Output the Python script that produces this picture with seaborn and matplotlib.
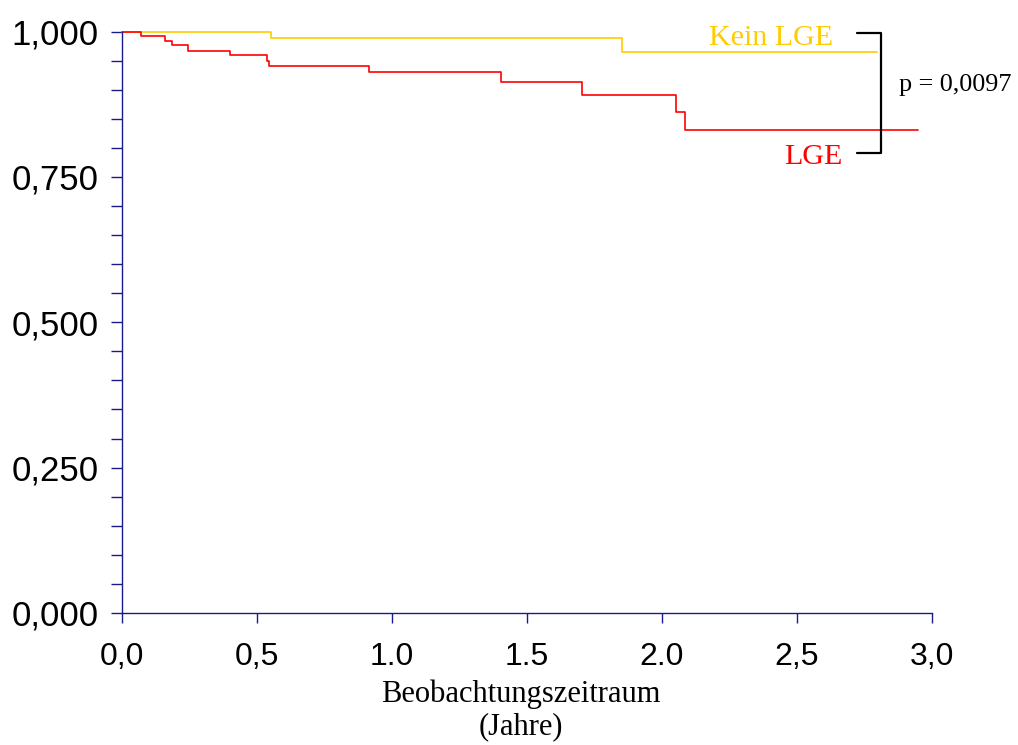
import numpy as np
import pandas as pd
import seaborn as sns
import matplotlib.pyplot as plt
from matplotlib.ticker import MultipleLocator

# Kaplan-Meier steps
kein_t = [0.0, 0.552, 1.851, 2.795]
kein_s = [1.000, 0.989, 0.964, 0.964]
lge_t = [0.0, 0.069, 0.160, 0.186, 0.243, 0.400, 0.537, 0.543, 0.916, 1.403, 1.704, 2.052, 2.085, 2.947]
lge_s = [1.000, 0.992, 0.984, 0.976, 0.967, 0.959, 0.950, 0.941, 0.930, 0.914, 0.891, 0.861, 0.831, 0.831]

groups = ["Kein LGE", "LGE"]
colors = {"Kein LGE": "#FFCC00", "LGE": "#FF0000"}
x_ticks = [0.0, 0.5, 1.0, 1.5, 2.0, 2.5, 3.0]
x_labels = ["0,0", "0,5", "1.0", "1.5", "2.0", "2,5", "3,0"]
y_ticks = [0.0, 0.25, 0.5, 0.75, 1.0]
y_labels = ["0,000", "0,250", "0,500", "0,750", "1,000"]
p_text = "p = 0,0097"

df = pd.concat([
    pd.DataFrame({"t": kein_t, "s": kein_s, "gruppe": "Kein LGE"}),
    pd.DataFrame({"t": lge_t, "s": lge_s, "gruppe": "LGE"}),
])

sns.set_style("white")
plt.rcParams['font.family'] = ['Liberation Sans', 'DejaVu Sans']
plt.rcParams['text.color'] = 'black'
plt.rcParams['xtick.color'] = 'black'
plt.rcParams['ytick.color'] = 'black'

fig = plt.figure(figsize=(10.18, 7.45), dpi=100)
ax = fig.add_axes([0.1198, 0.1772, 0.7957, 0.7805])

sns.lineplot(data=df, x="t", y="s", hue="gruppe", palette=colors, hue_order=groups,
             drawstyle="steps-post", sort=False, lw=1.2, legend=False, ax=ax,
             clip_on=False)

ax.set_xlim(0, 3.0)
ax.set_ylim(0, 1.0)
ax.set_xticks(x_ticks)
ax.set_xticklabels(x_labels)
ax.set_yticks(y_ticks)
ax.set_yticklabels(y_labels)
ax.yaxis.set_minor_locator(MultipleLocator(0.05))

navy = "#1a1a8a"
for side in ["top", "right"]:
    ax.spines[side].set_visible(False)
for side in ["left", "bottom"]:
    ax.spines[side].set_color(navy)
    ax.spines[side].set_linewidth(1.0)
ax.tick_params(axis="both", which="both", direction="out", color=navy, width=1.0,
               left=True, bottom=True, labelcolor="black")
ax.tick_params(axis="y", which="both", length=8, labelsize=25, pad=9)
ax.tick_params(axis="x", which="major", length=7, labelsize=23, pad=14)
ax.tick_params(axis="x", which="minor", length=0)

serif = ["Liberation Serif", "DejaVu Serif"]
ax.set_xlabel("Beobachtungszeitraum\n(Jahre)", family=serif, fontsize=22, linespacing=1.15,
              color="black")
ax.xaxis.set_label_coords(0.4926, -0.115, transform=ax.transAxes)
ax.xaxis.label.set_va("top")
ax.set_ylabel("")

ax.text(2.633, 0.9895, "Kein LGE", color=colors["Kein LGE"], family=serif, fontsize=21.6,
        ha="right", va="center")
ax.text(2.667, 0.7835, "LGE", color=colors["LGE"], family=serif, fontsize=21.6,
        ha="right", va="center")

# bracket with p-value
ax.plot([2.722, 2.811, 2.811, 2.722], [0.9974, 0.9974, 0.791, 0.791], color="black",
        lw=1.6, clip_on=False)
ax.text(2.878, 0.9075, p_text, family=serif, fontsize=18.8, ha="left", va="center",
        clip_on=False)

fig.savefig("out.png", dpi=100)
